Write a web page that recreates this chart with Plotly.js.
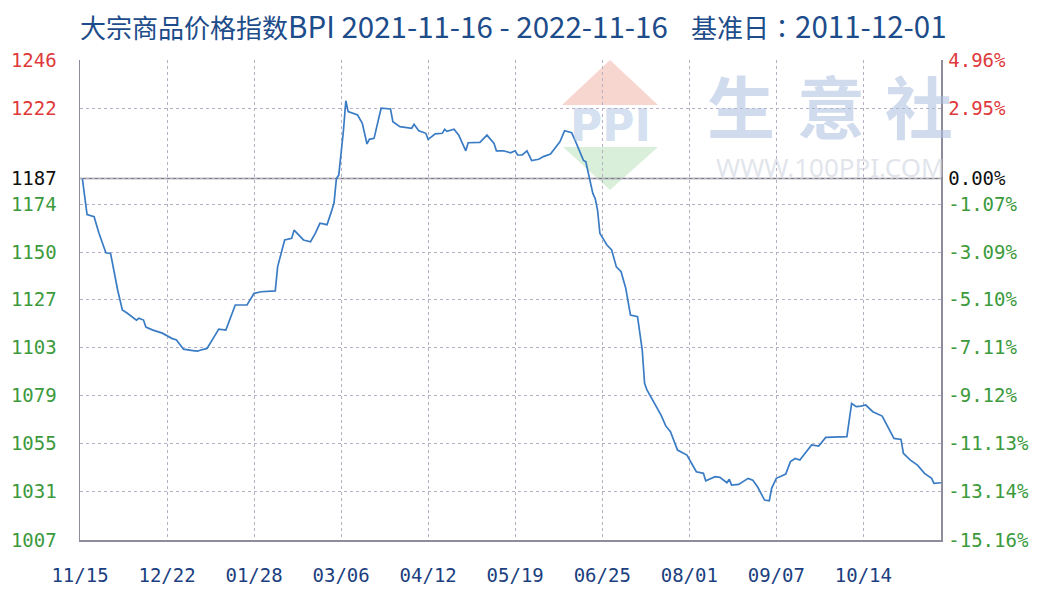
<!DOCTYPE html>
<html>
<head>
<meta charset="utf-8">
<script src="https://cdn.plot.ly/plotly-3.0.1.min.js"></script>
<style>html,body{margin:0;padding:0;background:#fff;}#chart{width:1040px;height:600px;}</style>
</head>
<body>
<div id="chart"></div>
<script>
const BASE = 1187;
const titleCn = "大宗商品价格指数";
const titleRange = "BPI 2021-11-16 - 2022-11-16";
const titleBaseLabel = "基准日";
const titleColon = "：";
const titleBaseDate = "2011-12-01";

const dates = [
"2021-11-16","2021-11-18","2021-11-21","2021-11-23","2021-11-26","2021-11-28","2021-12-01","2021-12-03","2021-12-05","2021-12-09",
"2021-12-10","2021-12-12","2021-12-13","2021-12-16","2021-12-20","2021-12-24","2021-12-26","2021-12-29","2022-01-02","2022-01-04",
"2022-01-05","2022-01-08","2022-01-13","2022-01-16","2022-01-20","2022-01-25","2022-01-28","2022-01-31","2022-02-06","2022-02-07",
"2022-02-10","2022-02-13","2022-02-14","2022-02-18","2022-02-21","2022-02-23","2022-02-25","2022-02-28","2022-03-02","2022-03-03",
"2022-03-04","2022-03-05","2022-03-07","2022-03-08","2022-03-09","2022-03-13","2022-03-15","2022-03-17","2022-03-18","2022-03-20",
"2022-03-23","2022-03-27","2022-03-28","2022-03-31","2022-04-05","2022-04-06","2022-04-08","2022-04-11","2022-04-12","2022-04-15",
"2022-04-18","2022-04-19","2022-04-20","2022-04-23","2022-04-25","2022-04-28","2022-04-29","2022-05-04","2022-05-07","2022-05-10",
"2022-05-11","2022-05-14","2022-05-17","2022-05-19","2022-05-20","2022-05-22","2022-05-24","2022-05-26","2022-05-29","2022-05-31",
"2022-06-03","2022-06-07","2022-06-09","2022-06-12","2022-06-14","2022-06-17","2022-06-18","2022-06-19","2022-06-20","2022-06-21",
"2022-06-22","2022-06-23","2022-06-24","2022-06-27","2022-06-29","2022-07-01","2022-07-03","2022-07-05","2022-07-07","2022-07-10",
"2022-07-12","2022-07-13","2022-07-14","2022-07-16","2022-07-20","2022-07-22","2022-07-24","2022-07-27","2022-07-31","2022-08-04",
"2022-08-07","2022-08-08","2022-08-12","2022-08-14","2022-08-17","2022-08-18","2022-08-19","2022-08-22","2022-08-26","2022-08-28",
"2022-08-30","2022-09-02","2022-09-04","2022-09-05","2022-09-07","2022-09-11","2022-09-13","2022-09-15","2022-09-17","2022-09-22",
"2022-09-25","2022-09-28","2022-10-07","2022-10-09","2022-10-11","2022-10-13","2022-10-15","2022-10-18","2022-10-22","2022-10-27",
"2022-10-30","2022-10-31","2022-11-03","2022-11-06","2022-11-09","2022-11-12","2022-11-13","2022-11-16"
];
const bpi = [
1187,1169,1168,1160,1150,1149.7,1131.5,1121.5,1120,1116.5,
1117.4,1116.5,1113,1111.5,1110,1107.4,1106.6,1102,1101.3,1101.0,
1101.5,1102.4,1112,1111.5,1124,1124,1129.8,1130.6,1131,1143,
1156.4,1157.2,1161.3,1156.4,1155.5,1159.7,1164.7,1164,1171,1175,
1187,1188.7,1211,1225.7,1220.3,1218.6,1214.5,1204.2,1206.5,1207,
1222,1221.6,1215.3,1212.8,1212,1214,1210.8,1209.5,1206.5,1209.2,
1209.5,1211.5,1210.5,1211.5,1208.6,1200.8,1204.8,1205,1208.6,1204.5,
1200.8,1200.8,1199.8,1200.8,1198.7,1198.7,1200.8,1195.9,1196.6,1197.9,
1199.2,1205.3,1210.8,1209.8,1204.5,1196,1195.4,1190,1184.6,1179.6,
1177,1171.3,1159.7,1153.9,1151.4,1143,1140.6,1132.3,1119,1118.2,
1101.6,1085,1081.7,1077.6,1069.2,1063.8,1060.9,1051.8,1049.3,1041,
1040.2,1036.5,1038.5,1038.2,1035.5,1037.2,1034.3,1034.7,1037.7,1036.8,
1033.5,1026.9,1026.5,1032.7,1037.7,1039.8,1046,1047.6,1046.8,1054.3,
1053.8,1058.1,1058.5,1075,1073.4,1073.7,1074.2,1070.9,1068.7,1057.6,
1057.1,1050.2,1046.8,1044.3,1040.2,1037.7,1035.2,1035.5
];

const xTicks = ["2021-11-15","2021-12-22","2022-01-28","2022-03-06","2022-04-12","2022-05-19","2022-06-25","2022-08-01","2022-09-07","2022-10-14"];
const xTickLabels = ["11/15","12/22","01/28","03/06","04/12","05/19","06/25","08/01","09/07","10/14"];
const yTicks = [1246,1222,1187,1174,1150,1127,1103,1079,1055,1031,1007];
const yTickLabels = ["1246","1222","1187","1174","1150","1127","1103","1079","1055","1031","1007"];
const pctTickLabels = ["4.96%","2.95%","0.00%","-1.07%","-3.09%","-5.10%","-7.11%","-9.12%","-11.13%","-13.14%","-15.16%"];
const tickColorGroup = ["up","up","base","down","down","down","down","down","down","down","down"];

const COLORS = {up:"#e0393b", base:"#111111", down:"#3c9a3c"};
const paint = (arr) => arr.map((t,i) => '<span style="color:' + COLORS[tickColorGroup[i]] + '">' + t + '</span>');
const latin = (t) => '<span style="font-size:29.5px">' + t + '</span>';
const NB = "\u00a0";
const titleText = titleCn + latin(titleRange) + NB + NB + NB + NB + titleBaseLabel +
  '<span style="font-family:Noto Sans CJK TC">' + titleColon + '</span>' + latin(titleBaseDate);

const MONO = "DejaVu Sans Mono, monospace";
const GRID = "#b9afc2";
const AXLINE = "#8c8c9c";
const WM = "rgba(170,190,222,0.55)";

const traces = [
  {x: dates, y: bpi, type: "scatter", mode: "lines", line: {color: "#3a7cc4", width: 1.7}, hoverinfo: "skip", showlegend: false},
  {x: dates, y: bpi, type: "scatter", mode: "lines", yaxis: "y2", line: {color: "rgba(0,0,0,0)", width: 0}, hoverinfo: "skip", showlegend: false}
];

const layout = {
  width: 1040, height: 600,
  margin: {l: 80, r: 99, t: 60, b: 60},
  paper_bgcolor: "#ffffff", plot_bgcolor: "#ffffff",
  showlegend: false,
  title: {text: titleText, xref: "container", yref: "container", x: 0.077, xanchor: "left", y: 0.952, yanchor: "middle",
          font: {family: "Noto Sans CJK SC, sans-serif", size: 26, color: "#1d4c8a"}},
  xaxis: {type: "date", range: ["2021-11-15", "2022-11-16"], tickmode: "array", tickvals: xTicks, ticktext: xTickLabels,
          showgrid: true, gridcolor: GRID, griddash: "3px,3px", gridwidth: 1, zeroline: false,
          showline: true, linecolor: AXLINE, linewidth: 1.5,
          ticks: "outside", ticklen: 18, tickcolor: "rgba(0,0,0,0)",
          tickfont: {family: MONO, size: 19, color: "#1c3f80"}, fixedrange: true},
  yaxis: {range: [1007, 1246], tickmode: "array", tickvals: yTicks, ticktext: paint(yTickLabels),
          showgrid: true, gridcolor: GRID, griddash: "3px,3px", gridwidth: 1, zeroline: false,
          showline: true, linecolor: AXLINE, linewidth: 1.5,
          ticks: "outside", ticklen: 18, tickcolor: "rgba(0,0,0,0)",
          tickfont: {family: MONO, size: 19, color: "#3c9a3c"}, fixedrange: true},
  yaxis2: {range: [1007, 1246], overlaying: "y", side: "right", tickmode: "array", tickvals: yTicks, ticktext: paint(pctTickLabels),
          showgrid: false, zeroline: false, showline: true, linecolor: AXLINE, linewidth: 1.5,
          ticks: "outside", ticklen: 2, tickcolor: "rgba(0,0,0,0)",
          tickfont: {family: MONO, size: 19, color: "#3c9a3c"}, fixedrange: true},
  shapes: [
    {type: "path", xref: "paper", yref: "paper", layer: "below",
     path: "M 0.5598 0.906 L 0.6156 1.0 L 0.6713 0.906 Z", fillcolor: "rgba(240,165,150,0.45)", line: {width: 0}},
    {type: "path", xref: "paper", yref: "paper", layer: "below",
     path: "M 0.5610 0.819 L 0.6713 0.819 L 0.6156 0.729 Z", fillcolor: "rgba(160,215,160,0.4)", line: {width: 0}},
    {type: "line", xref: "paper", x0: 0, x1: 1, yref: "y", y0: BASE, y1: BASE, layer: "below",
     line: {color: "#7c7c88", width: 1.5}}
  ],
  annotations: [
    {text: "<b>PPI</b>", xref: "paper", yref: "paper", x: 0.6156, y: 0.8625, showarrow: false, xanchor: "center", yanchor: "middle",
     font: {family: "DejaVu Sans, sans-serif", size: 44, color: "rgba(160,185,222,0.45)"}},
    {text: "<b>生</b>", xref: "paper", yref: "paper", x: 0.7677, y: 0.908, showarrow: false, xanchor: "center", yanchor: "middle",
     font: {family: "Noto Sans CJK SC", size: 68, color: WM}},
    {text: "<b>意</b>", xref: "paper", yref: "paper", x: 0.8722, y: 0.908, showarrow: false, xanchor: "center", yanchor: "middle",
     font: {family: "Noto Sans CJK SC", size: 68, color: WM}},
    {text: "<b>社</b>", xref: "paper", yref: "paper", x: 0.9744, y: 0.908, showarrow: false, xanchor: "center", yanchor: "middle",
     font: {family: "Noto Sans CJK SC", size: 68, color: WM}},
    {text: "WWW.100PPI.COM", xref: "paper", yref: "paper", x: 0.8717, y: 0.777, showarrow: false, xanchor: "center", yanchor: "middle",
     font: {family: "Noto Sans, sans-serif", size: 26, color: "rgba(205,210,222,0.6)"}}
  ]
};

Plotly.newPlot("chart", traces, layout, {staticPlot: true, displayModeBar: false});
</script>
</body>
</html>
